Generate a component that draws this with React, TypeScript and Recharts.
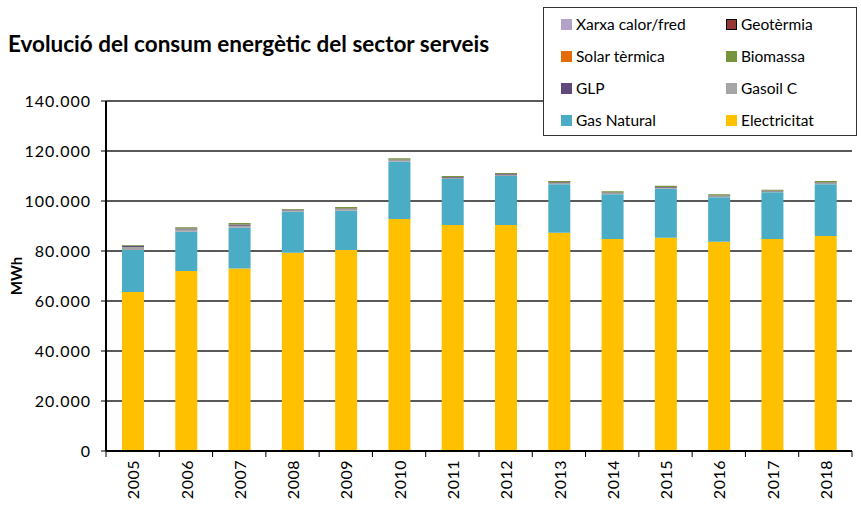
import React from "react";
import { BarChart, Bar, XAxis, YAxis, CartesianGrid } from "recharts";

const years = ["2005","2006","2007","2008","2009","2010","2011","2012","2013","2014","2015","2016","2017","2018"];
const electricitat = [63600,72000,73000,79300,80400,92800,90400,90400,87300,84800,85300,83700,84800,86000];
const gasNatural = [16800,15700,16300,16400,15700,22900,18400,19600,19400,17900,19600,17800,18700,20700];
const gasoilC = [1200,900,800,500,600,600,500,500,500,400,400,400,300,400];
const glp = [500,400,500,300,300,300,300,300,300,300,300,300,300,300];
const biomassa = [300,500,600,300,600,500,400,400,500,500,500,500,400,600];
const solarTermica = [0,0,0,0,0,0,0,0,0,0,0,0,0,0];
const geotermia = [0,0,0,0,0,0,0,0,0,0,0,0,0,0];
const xarxa = [0,0,0,0,0,0,0,0,0,0,0,0,0,0];
const yTicks = [0,20000,40000,60000,80000,100000,120000,140000];

const series = [
  { key: "elec", name: "Electricitat", values: electricitat, color: "#FFC000" },
  { key: "gas", name: "Gas Natural", values: gasNatural, color: "#4BACC6" },
  { key: "gasoil", name: "Gasoil C", values: gasoilC, color: "#A5A5A5" },
  { key: "glp", name: "GLP", values: glp, color: "#604A7B" },
  { key: "bio", name: "Biomassa", values: biomassa, color: "#77933C" },
  { key: "solar", name: "Solar tèrmica", values: solarTermica, color: "#E36C09" },
  { key: "geo", name: "Geotèrmia", values: geotermia, color: "#953735" },
  { key: "xarxa", name: "Xarxa calor/fred", values: xarxa, color: "#B3A2C7" },
];

const data = years.map((y, i) => {
  const row: any = { year: y };
  series.forEach((s) => (row[s.key] = s.values[i]));
  return row;
});

const FONT = "Lato, 'Open Sans', sans-serif";
const fmt = (v: number) => String(v).replace(/\B(?=(\d{3})+(?!\d))/g, ".");

const legendOrder = ["xarxa", "geo", "solar", "bio", "glp", "gasoil", "gas", "elec"];

const LegendBox = () => (
  <div
    style={{
      position: "absolute",
      left: 543,
      top: 7,
      width: 314,
      height: 129,
      border: "1.5px solid #333",
      background: "#fff",
      boxSizing: "border-box",
      display: "grid",
      gridTemplateColumns: "165px 140px",
      gridTemplateRows: "repeat(4, 32px)",
      paddingLeft: 17,
      paddingTop: 0,
      fontFamily: FONT,
      fontSize: 15.5,
      color: "#000",
    }}
  >
    {legendOrder.map((k) => {
      const s = series.find((x) => x.key === k)!;
      return (
        <div key={k} style={{ display: "flex", alignItems: "center" }}>
          <span
            style={{
              display: "inline-block",
              width: 11,
              height: 11,
              background: s.color,
              marginRight: 4,
              boxSizing: "border-box",
              border: k === "geo" ? "1.5px solid #000" : "none",
            }}
          />
          <span>{s.name}</span>
        </div>
      );
    })}
  </div>
);

const XTick = (props: any) => {
  const { x, y, payload, index } = props;
  const band = 746 / 14;
  return (
    <g>
      <line x1={x - band / 2} y1={y - 8} x2={x - band / 2} y2={y - 2} stroke="#000" strokeWidth={1} />
      {index === years.length - 1 && (
        <line x1={x + band / 2} y1={y - 8} x2={x + band / 2} y2={y - 2} stroke="#000" strokeWidth={1} />
      )}
      <text
        transform={`translate(${x + 1},${y + 1}) rotate(-90)`}
        textAnchor="end"
        dy="0.35em"
        fontSize={16}
        letterSpacing={0.5}
        fontFamily={FONT}
        fill="#000"
      >
        {payload.value}
      </text>
    </g>
  );
};

export default function App() {
  return (
    <div style={{ position: "absolute", left: 0, top: 0, width: 861, height: 506, background: "#fff" }}>
      <div
        style={{
          position: "absolute",
          left: 8,
          top: 30,
          fontFamily: FONT,
          fontWeight: 700,
          fontSize: 22.5,
          color: "#000",
          whiteSpace: "nowrap",
        }}
      >
        Evolució del consum energètic del sector serveis
      </div>
      <BarChart
        width={861}
        height={506}
        data={data}
        margin={{ top: 101, right: 9, bottom: 0, left: 0 }}
        barSize={22}
      >
        <CartesianGrid vertical={false} stroke="#595959" strokeWidth={2} />
        <XAxis
          dataKey="year"
          height={55}
          tick={<XTick />}
          tickLine={false}
          interval={0}
          axisLine={{ stroke: "#000", strokeWidth: 2 }}
        />
        <YAxis
          width={106}
          domain={[0, 140000]}
          ticks={yTicks}
          tickFormatter={fmt}
          tick={{ fontSize: 16, fontFamily: FONT, fill: "#000", letterSpacing: 1 }}
          tickLine={{ stroke: "#000" }}
          tickSize={5}
          tickMargin={10}
          axisLine={{ stroke: "#000", strokeWidth: 2 }}
          label={{
            value: "MWh",
            angle: -90,
            position: "insideLeft",
            offset: 17,
            style: { fontFamily: FONT, fontWeight: 700, fontSize: 15, fill: "#000", textAnchor: "middle" },
          }}
        />
        {series.map((s) => (
          <Bar
            key={s.key}
            dataKey={s.key}
            name={s.name}
            stackId="a"
            fill={s.color}
            isAnimationActive={false}
          />
        ))}
      </BarChart>
      <LegendBox />
    </div>
  );
}
